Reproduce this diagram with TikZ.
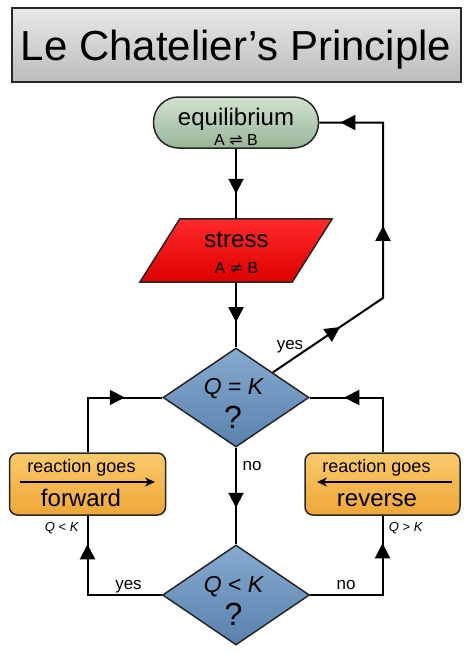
\documentclass[tikz,border=0pt]{standalone}
\usepackage{fontspec}
\setmainfont{Liberation Sans}
\newfontfamily\symfont{DejaVu Sans}
\usetikzlibrary{shapes.geometric,arrows.meta,decorations.markings}
\definecolor{titletop}{HTML}{E8E8E8}
\definecolor{titlebot}{HTML}{BCBCBC}
\definecolor{eqtop}{HTML}{D2E2D0}
\definecolor{eqbot}{HTML}{98B598}
\definecolor{stresstop}{HTML}{FF2A2A}
\definecolor{stressbot}{HTML}{DD0000}
\definecolor{asktop}{HTML}{86AAD0}
\definecolor{askbot}{HTML}{5A82AE}
\definecolor{gotop}{HTML}{FAC96C}
\definecolor{gobot}{HTML}{EEA738}

\begin{document}
\begin{tikzpicture}[x=1pt,y=-1pt,
	flow/.style={line width=2pt},
	box/.style={draw=black!85,line width=1.5pt,inner sep=0pt},
	arrowat/.style={postaction={decorate,decoration={markings,mark=at position #1 with {\arrow{Triangle[length=15pt,width=15pt]}}}}},
	lbl/.style={anchor=base,font=\fontsize{17}{17}\selectfont}]
	\useasboundingbox (0,0) rectangle (474,653);
	
	% title
	\node[box,line width=2pt,top color=titletop,bottom color=titlebot,minimum width=449pt,minimum height=74pt] (title) at (236.5,45) {};
	\node[anchor=base,font=\fontsize{42}{42}\selectfont] (titletext) at (236,60) {Le Chatelier’s Principle};
	
	% shapes
	\node[box,rounded corners=25pt,top color=eqtop,bottom color=eqbot,minimum width=165pt,minimum height=51pt] (eq) at (236,122.5) {};
	\node[inner sep=0pt,minimum width=192pt,minimum height=63pt] (stress) at (236,250.5) {};
	\draw[box,top color=stresstop,bottom color=stressbot] ([xshift=40pt]stress.north west) -- (stress.north east) -- ([xshift=-40pt]stress.south east) -- (stress.south west) -- cycle;
	\node[box,diamond,top color=asktop,bottom color=askbot,minimum width=146pt,minimum height=99pt] (qk) at (236,397.5) {};
	\node[box,diamond,top color=asktop,bottom color=askbot,minimum width=147pt,minimum height=100pt] (qlk) at (236,595) {};
	\node[box,rounded corners=8pt,top color=gotop,bottom color=gobot,minimum width=156pt,minimum height=62pt] (fwd) at (87.5,484) {};
	\node[box,rounded corners=8pt,top color=gotop,bottom color=gobot,minimum width=155pt,minimum height=62pt] (rev) at (382.5,484) {};
	
	% texts
	\node[anchor=base,font=\fontsize{24}{24}\selectfont] (eqname) at (236,125) {equilibrium};
	\node[anchor=base,font=\fontsize{16}{16}\selectfont] (eqform) at (236,145) {A {\symfont ⇌} B};
	\node[anchor=base,font=\fontsize{24}{24}\selectfont] (stressname) at (236.5,247) {stress};
	\node[anchor=base,font=\fontsize{16}{16}\selectfont] (stressform) at (236.5,273) {A {\symfont ≠} B};
	\node[anchor=base,font=\fontsize{23}{23}\selectfont] (qktext) at (234,394) {\textit{Q} = \textit{K}};
	\node[anchor=base,font=\fontsize{32}{32}\selectfont] (qkmark) at (233,428) {?};
	\node[anchor=base,font=\fontsize{23}{23}\selectfont] (qlktext) at (234,592) {\textit{Q} < \textit{K}};
	\node[anchor=base,font=\fontsize{32}{32}\selectfont] (qlkmark) at (233.5,625) {?};
	
	\node[anchor=base,font=\fontsize{18}{18}\selectfont] (fwdtop) at (81.5,472) {reaction goes};
	\node[anchor=base,font=\fontsize{24}{24}\selectfont] (fwdname) at (81,506) {forward};
	\node[anchor=base,font=\fontsize{18}{18}\selectfont] (revtop) at (376.5,472) {reaction goes};
	\node[anchor=base,font=\fontsize{24}{24}\selectfont] (revname) at (377,506) {reverse};
	\coordinate (fwdtail) at (20,482);
	\coordinate (fwdtip) at (155,482);
	\coordinate (revtail) at (452,482);
	\coordinate (revtip) at (317,482);
	\draw[line width=2.5pt,-{Stealth[length=10pt,width=9pt]}] (fwdtail) -- (fwdtip);
	\draw[line width=2.5pt,-{Stealth[length=10pt,width=9pt]}] (revtail) -- (revtip);
	
	\node[anchor=base,font=\fontsize{13}{13}\selectfont] (fwdcond) at (62,531) {\textit{Q} < \textit{K}};
	\node[anchor=base,font=\fontsize{13}{13}\selectfont] (revcond) at (406,531) {\textit{Q} > \textit{K}};
	
	% connectors
	\coordinate (yesbend) at (383,298);
	\draw[flow,arrowat=45pt] (eq.south) -- (stress.north);
	\draw[flow,arrowat=40pt] (stress.south) -- (qk.north);
	\draw[flow,arrowat=60pt] (qk.south) -- (qlk.north);
	\draw[flow,arrowat=81pt,arrowat=205pt,arrowat=351pt] (qk.north east) -- (yesbend) |- (eq.east);
	\draw[flow,arrowat=92pt] (fwd.north) |- (qk.west);
	\draw[flow,arrowat=93pt] (rev.north) |- (qk.east);
	\draw[flow,arrowat=125pt] (qlk.west) -| (fwd.south);
	\draw[flow,arrowat=124pt] (qlk.east) -| (rev.south);
	
	\node[lbl] (yesup) at (290,349) {yes};
	\node[lbl] (nodown) at (252,470) {no};
	\node[lbl] (yesleft) at (128.5,589) {yes};
	\node[lbl] (noright) at (346,589) {no};
\end{tikzpicture}
\end{document}
